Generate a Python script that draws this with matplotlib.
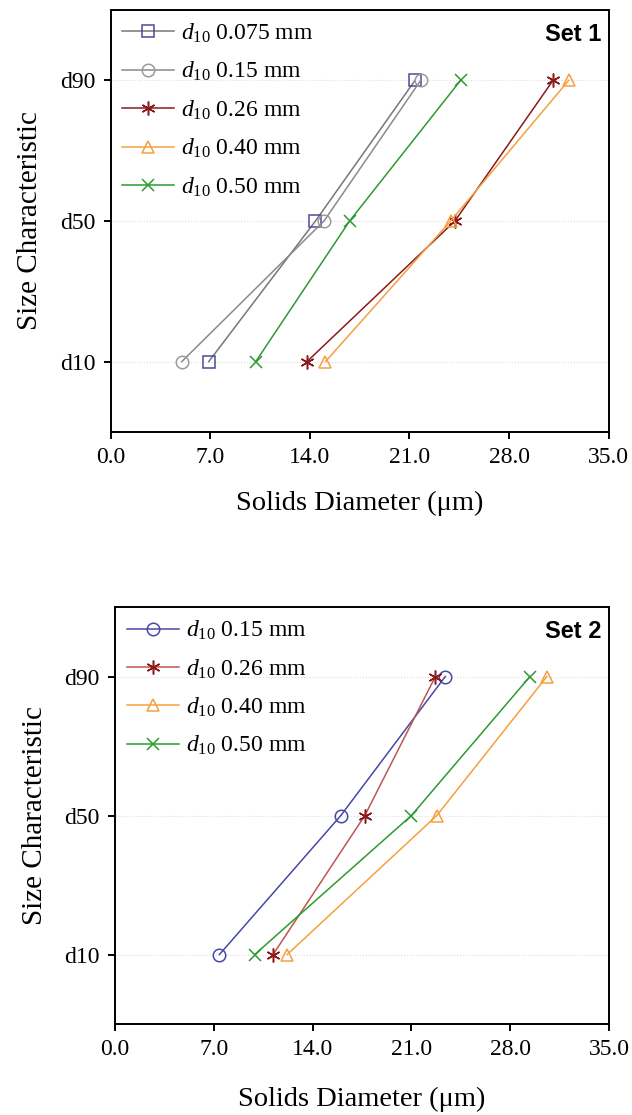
import numpy as np
import matplotlib.pyplot as plt

plt.rcParams["font.family"] = "Liberation Serif"
plt.rcParams["mathtext.fontset"] = "custom"
plt.rcParams["mathtext.rm"] = "Liberation Serif"
plt.rcParams["mathtext.it"] = "Liberation Serif:italic"

sizes = ["d10", "d50", "d90"]
ypos = [1, 2, 3]

# Set 1 values (um)
set1_labels = ["0.075", "0.15", "0.26", "0.40", "0.50"]
set1_0075 = [6.9, 14.4, 21.4]
set1_015 = [5.0, 15.0, 21.8]
set1_026 = [13.8, 24.2, 31.1]
set1_040 = [15.1, 23.9, 32.2]
set1_050 = [10.2, 16.8, 24.6]

# Set 2 values (um)
set2_labels = ["0.15", "0.26", "0.40", "0.50"]
set2_015 = [7.4, 16.0, 23.4]
set2_026 = [11.2, 17.7, 22.7]
set2_040 = [12.2, 22.8, 30.6]
set2_050 = [9.9, 21.0, 29.4]

xticks = [0.0, 7.0, 14.0, 21.0, 28.0, 35.0]

# (line colour, marker colour, marker)
style1 = [("#777777", "#4a4a9c", "s"),
          ("#8a8a8a", "#9a9a9a", "o"),
          ("#8b1a1a", "#8b1a1a", (6, 2, 0)),
          ("#f5a040", "#f5a040", "^"),
          ("#2e9a2e", "#2e9a2e", "x")]
style2 = [("#4848a8", "#4848a8", "o"),
          ("#c05555", "#8b1a1a", (6, 2, 0)),
          ("#f5a040", "#f5a040", "^"),
          ("#2e9a2e", "#2e9a2e", "x")]

fig = plt.figure(figsize=(6.32, 11.15), dpi=100)
ax1 = fig.add_axes([0.175, 0.6126, 0.788, 0.3785])
ax2 = fig.add_axes([0.182, 0.0816, 0.7816, 0.374])


def draw(ax, series, labels, styles, title, xpad):
    for vals, lab, (lc, mc, mk) in zip(series, labels, styles):
        ms = 10 if isinstance(mk, tuple) else 9
        ax.plot(vals, ypos, color=lc, lw=1.1, marker=mk, ms=ms,
                mfc="none", mec=mc, mew=1.1,
                label=r"$\mathit{d}_{\mathit{10}}$" + " " + lab + " mm")
    ax.set_xlim(0, 35)
    ax.set_ylim(0.5, 3.5)
    ax.set_xticks(xticks)
    ax.set_xticklabels(["%.1f" % t for t in xticks])
    ax.set_yticks(ypos)
    ax.set_yticklabels(sizes)
    ax.yaxis.grid(True, ls=":", color="#dddddd", lw=0.8)
    ax.tick_params(labelsize=17, direction="out", length=5, width=1.4, pad=6)
    for s in ax.spines.values():
        s.set_linewidth(1.4)
    ax.set_xlabel("Solids Diameter (\u03bcm)", fontsize=20.5, labelpad=xpad)
    ax.set_ylabel("Size Characteristic", fontsize=21, labelpad=12)
    ax.text(0.985, 0.97, title, transform=ax.transAxes, ha="right", va="top",
            fontsize=17, fontweight="bold", family="Liberation Sans")
    ax.legend(loc="upper left", frameon=False, fontsize=17, handlelength=2.2,
              handletextpad=0.3, labelspacing=0.64, borderaxespad=0.15,
              borderpad=0.35)


draw(ax1, [set1_0075, set1_015, set1_026, set1_040, set1_050],
     set1_labels, style1, "Set 1", 16)
draw(ax2, [set2_015, set2_026, set2_040, set2_050],
     set2_labels, style2, "Set 2", 19)

fig.savefig("out.png", dpi=100)
